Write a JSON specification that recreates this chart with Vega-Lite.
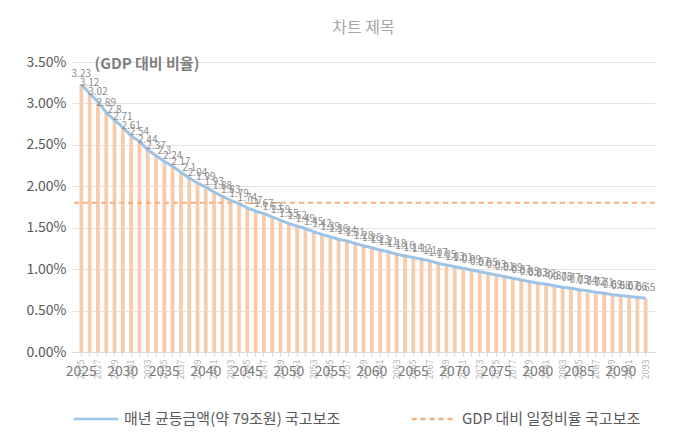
{
  "$schema": "https://vega.github.io/schema/vega-lite/v6.json",
  "width": 583,
  "height": 290,
  "autosize": {"type": "none"},
  "padding": {"left": 72, "top": 62, "right": 19, "bottom": 83},
  "background": "white",
  "title": {
    "text": "차트 제목",
    "fontSize": 16,
    "fontWeight": "normal",
    "color": "#A6A6A6",
    "frame": "group",
    "anchor": "middle",
    "offset": 19
  },
  "datasets": {
    "main": [
      {"year": 2025, "v": 3.23}, {"year": 2026, "v": 3.12}, {"year": 2027, "v": 3.02},
      {"year": 2028, "v": 2.89}, {"year": 2029, "v": 2.8}, {"year": 2030, "v": 2.71},
      {"year": 2031, "v": 2.61}, {"year": 2032, "v": 2.54}, {"year": 2033, "v": 2.44},
      {"year": 2034, "v": 2.37}, {"year": 2035, "v": 2.3}, {"year": 2036, "v": 2.24},
      {"year": 2037, "v": 2.17}, {"year": 2038, "v": 2.1}, {"year": 2039, "v": 2.04},
      {"year": 2040, "v": 1.99}, {"year": 2041, "v": 1.93}, {"year": 2042, "v": 1.88},
      {"year": 2043, "v": 1.83}, {"year": 2044, "v": 1.79}, {"year": 2045, "v": 1.74},
      {"year": 2046, "v": 1.7}, {"year": 2047, "v": 1.67}, {"year": 2048, "v": 1.63},
      {"year": 2049, "v": 1.59}, {"year": 2050, "v": 1.55}, {"year": 2051, "v": 1.52},
      {"year": 2052, "v": 1.49}, {"year": 2053, "v": 1.45}, {"year": 2054, "v": 1.42},
      {"year": 2055, "v": 1.39}, {"year": 2056, "v": 1.36}, {"year": 2057, "v": 1.34},
      {"year": 2058, "v": 1.31}, {"year": 2059, "v": 1.28}, {"year": 2060, "v": 1.26},
      {"year": 2061, "v": 1.23}, {"year": 2062, "v": 1.21}, {"year": 2063, "v": 1.18},
      {"year": 2064, "v": 1.16}, {"year": 2065, "v": 1.14}, {"year": 2066, "v": 1.12},
      {"year": 2067, "v": 1.1}, {"year": 2068, "v": 1.07}, {"year": 2069, "v": 1.05},
      {"year": 2070, "v": 1.03}, {"year": 2071, "v": 1.01}, {"year": 2072, "v": 0.99},
      {"year": 2073, "v": 0.97}, {"year": 2074, "v": 0.95}, {"year": 2075, "v": 0.93},
      {"year": 2076, "v": 0.91}, {"year": 2077, "v": 0.89}, {"year": 2078, "v": 0.87},
      {"year": 2079, "v": 0.85}, {"year": 2080, "v": 0.83}, {"year": 2081, "v": 0.82},
      {"year": 2082, "v": 0.8}, {"year": 2083, "v": 0.78}, {"year": 2084, "v": 0.77},
      {"year": 2085, "v": 0.75}, {"year": 2086, "v": 0.74}, {"year": 2087, "v": 0.72},
      {"year": 2088, "v": 0.71}, {"year": 2089, "v": 0.69}, {"year": 2090, "v": 0.68},
      {"year": 2091, "v": 0.67}, {"year": 2092, "v": 0.66}, {"year": 2093, "v": 0.65}
    ],
    "ref": [
      {"series": "GDP 대비 일정비율 국고보조", "v": 1.8}
    ]
  },
  "data": {"name": "main"},
  "layer": [
    {
      "mark": {"type": "bar", "color": "#F8CBAD"},
      "encoding": {
        "x": {
          "field": "year",
          "type": "ordinal",
          "scale": {"paddingInner": 0.55, "paddingOuter": 0.9},
          "axis": {
            "title": null,
            "labelAngle": -90,
            "labelFontSize": 9,
            "labelColor": "#B0B0B0",
            "labelExpr": "(datum.value - 2025) % 2 == 0 ? datum.label : ''",
            "labelPadding": 3,
            "tickColor": "#D9D9D9",
            "tickSize": 4,
            "domainColor": "#D9D9D9"
          }
        },
        "y": {
          "field": "v",
          "type": "quantitative",
          "scale": {"domain": [0, 3.5], "nice": false},
          "axis": {
            "title": "(GDP 대비 비율)",
            "titleAngle": 0,
            "titleX": 22,
            "titleY": 1,
            "titleAlign": "left",
            "titleBaseline": "middle",
            "titleFontSize": 15,
            "titleFontWeight": "bold",
            "titleColor": "#7F7F7F",
            "values": [0, 0.5, 1, 1.5, 2, 2.5, 3, 3.5],
            "labelExpr": "format(datum.value, '.2f') + '%'",
            "labelFontSize": 14,
            "labelColor": "#595959",
            "labelPadding": 6,
            "domain": false,
            "ticks": false,
            "gridColor": "#E3E3E3"
          }
        }
      }
    },
    {
      "data": {"name": "ref"},
      "mark": {"type": "rule", "strokeWidth": 2},
      "encoding": {
        "y": {"field": "v", "type": "quantitative"},
        "color": {
          "field": "series",
          "type": "nominal",
          "scale": {
            "domain": ["매년 균등금액(약 79조원) 국고보조", "GDP 대비 일정비율 국고보조"],
            "range": ["#9DC3E6", "#F4B183"]
          }
        },
        "strokeDash": {
          "field": "series",
          "type": "nominal",
          "scale": {
            "domain": ["매년 균등금액(약 79조원) 국고보조", "GDP 대비 일정비율 국고보조"],
            "range": [[1, 0], [5, 4]]
          }
        }
      }
    },
    {
      "mark": {"type": "line", "strokeWidth": 3},
      "encoding": {
        "x": {"field": "year", "type": "ordinal"},
        "y": {"field": "v", "type": "quantitative"},
        "color": {"datum": "매년 균등금액(약 79조원) 국고보조"},
        "strokeDash": {"datum": "매년 균등금액(약 79조원) 국고보조"}
      }
    },
    {
      "mark": {"type": "text", "fontSize": 10, "color": "#8C8C8C", "dy": -10},
      "encoding": {
        "x": {"field": "year", "type": "ordinal"},
        "y": {"field": "v", "type": "quantitative"},
        "text": {"field": "v", "type": "quantitative"}
      }
    },
    {
      "transform": [{"filter": "datum.year % 5 == 0 && datum.year < 2093"}],
      "mark": {"type": "text", "fontSize": 14, "color": "#7A7A7A", "dy": 20, "baseline": "middle"},
      "encoding": {
        "x": {"field": "year", "type": "ordinal"},
        "y": {"datum": 0},
        "text": {"field": "year", "type": "nominal"}
      }
    }
  ],
  "resolve": {"scale": {"color": "shared", "strokeDash": "shared"}},
  "config": {
    "font": "Noto Sans CJK KR",
    "view": {"stroke": null},
    "legend": {
      "orient": "bottom",
      "direction": "horizontal",
      "labelFont": "Noto Sans CJK KR",
      "labelFontSize": 15,
      "labelColor": "#595959",
      "labelLimit": 0,
      "symbolType": "stroke",
      "symbolSize": 2000,
      "symbolStrokeWidth": 2.5,
      "columnPadding": 65,
      "offset": 16,
      "title": null
    },
    "axis": {"labelFont": "Noto Sans CJK KR", "titleFont": "Noto Sans CJK KR"}
  }
}
